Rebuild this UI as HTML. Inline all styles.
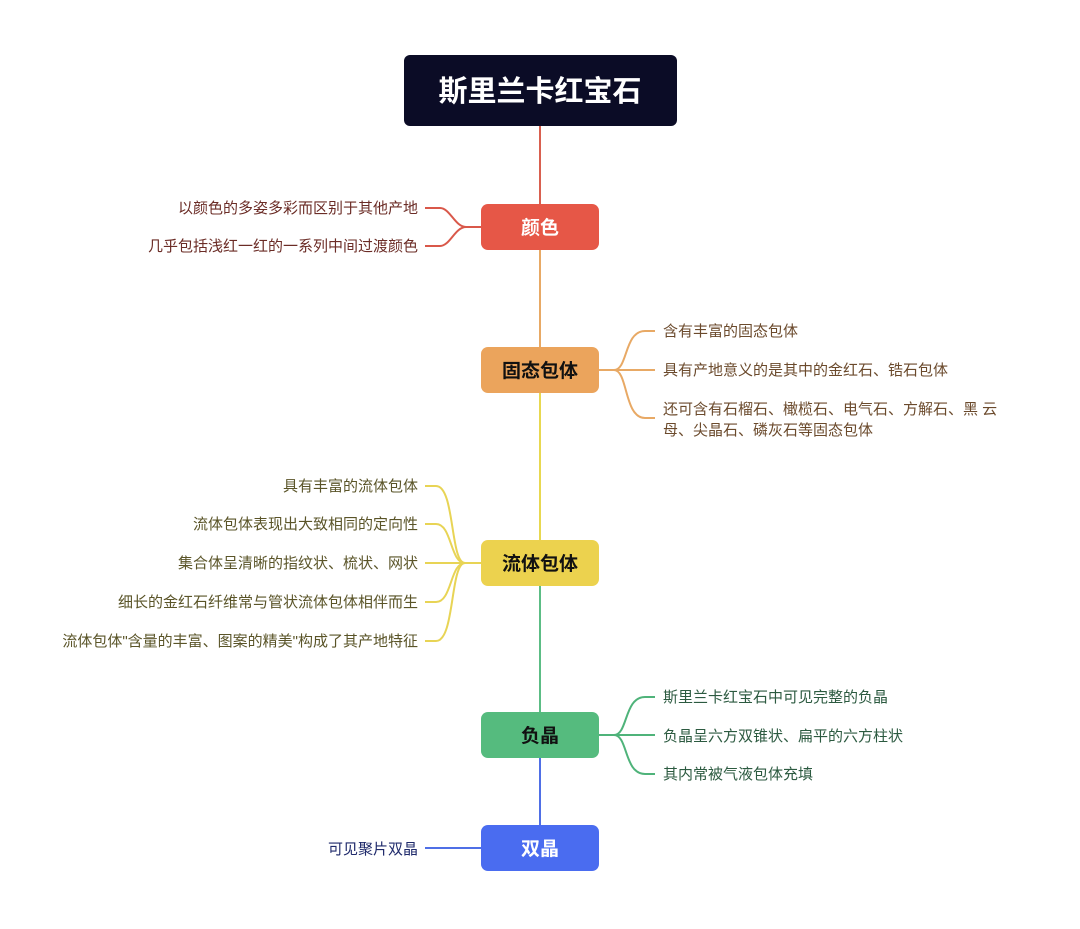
<!DOCTYPE html>
<html><head><meta charset="utf-8"><style>
html,body{margin:0;padding:0;background:#fff;}
svg text{font-family:"Liberation Sans","Noto Sans CJK SC",sans-serif;}
</style></head><body>
<svg width="1080" height="924" viewBox="0 0 1080 924" xmlns="http://www.w3.org/2000/svg">
<g fill="none" stroke-width="2">
<line x1="540" y1="126" x2="540" y2="204" stroke="#d9604f"/>
<line x1="540" y1="250" x2="540" y2="347" stroke="#e8a965"/>
<line x1="540" y1="393" x2="540" y2="540" stroke="#e8d850"/>
<line x1="540" y1="586" x2="540" y2="712" stroke="#5cbd85"/>
<line x1="540" y1="758" x2="540" y2="825" stroke="#4f6fe6"/>
<g stroke="#d9584a">
<path d="M481 227 H466 C455 227 450 208 440 208 H425"/>
<path d="M481 227 H466 C455 227 450 246 440 246 H425"/>
</g>
<g stroke="#e8a965">
<path d="M599 370 H614 C628 370 624 331 645 331 H655"/>
<path d="M599 370 H655"/>
<path d="M599 370 H614 C628 370 624 418 645 418 H655"/>
</g>
<g stroke="#e8d455">
<path d="M481 563 H465 C450 563 455 486 436 486 H425"/>
<path d="M481 563 H465 C450 563 452 524 436 524 H425"/>
<path d="M481 563 H425"/>
<path d="M481 563 H465 C450 563 452 602 436 602 H425"/>
<path d="M481 563 H465 C450 563 455 641 436 641 H425"/>
</g>
<g stroke="#4fb37a">
<path d="M599 735 H614 C628 735 624 697 645 697 H655"/>
<path d="M599 735 H655"/>
<path d="M599 735 H614 C628 735 624 774 645 774 H655"/>
</g>
<path d="M481 848 H425" stroke="#4f6fe6"/>
</g>
<rect x="404" y="55" width="273" height="71" rx="6" fill="#0b0c26"/>
<text x="540" y="101" text-anchor="middle" fill="#fff" font-size="29" font-weight="bold">斯里兰卡红宝石</text>
<rect x="481" y="204" width="118" height="46" rx="7" fill="#e65747"/>
<text x="540" y="234" text-anchor="middle" fill="#fff" font-size="19" font-weight="bold">颜色</text>
<rect x="481" y="347" width="118" height="46" rx="7" fill="#eba45c"/>
<text x="540" y="377" text-anchor="middle" fill="#111" font-size="19" font-weight="bold">固态包体</text>
<rect x="481" y="540" width="118" height="46" rx="7" fill="#ecd24e"/>
<text x="540" y="570" text-anchor="middle" fill="#111" font-size="19" font-weight="bold">流体包体</text>
<rect x="481" y="712" width="118" height="46" rx="7" fill="#55bb7e"/>
<text x="540" y="742" text-anchor="middle" fill="#111" font-size="19" font-weight="bold">负晶</text>
<rect x="481" y="825" width="118" height="46" rx="7" fill="#4a6cf0"/>
<text x="540" y="855" text-anchor="middle" fill="#fff" font-size="19" font-weight="bold">双晶</text>
<g font-size="15" text-anchor="end">
<g fill="#6b2c26">
<text x="418" y="213">以颜色的多姿多彩而区别于其他产地</text>
<text x="418" y="251">几乎包括浅红一红的一系列中间过渡颜色</text>
</g>
<g fill="#5a5428">
<text x="418" y="491">具有丰富的流体包体</text>
<text x="418" y="529">流体包体表现出大致相同的定向性</text>
<text x="418" y="568">集合体呈清晰的指纹状、梳状、网状</text>
<text x="418" y="607">细长的金红石纤维常与管状流体包体相伴而生</text>
<text x="418" y="646">流体包体"含量的丰富、图案的精美"构成了其产地特征</text>
</g>
<text x="418" y="854" fill="#1f2a6b">可见聚片双晶</text>
</g>
<g font-size="15">
<g fill="#6b4a2c">
<text x="663" y="336">含有丰富的固态包体</text>
<text x="663" y="375">具有产地意义的是其中的金红石、锆石包体</text>
<text x="663" y="414">还可含有石榴石、橄榄石、电气石、方解石、黑 云</text>
<text x="663" y="435">母、尖晶石、磷灰石等固态包体</text>
</g>
<g fill="#2c5a40">
<text x="663" y="702">斯里兰卡红宝石中可见完整的负晶</text>
<text x="663" y="741">负晶呈六方双锥状、扁平的六方柱状</text>
<text x="663" y="779">其内常被气液包体充填</text>
</g>
</g>
</svg>
</body></html>
